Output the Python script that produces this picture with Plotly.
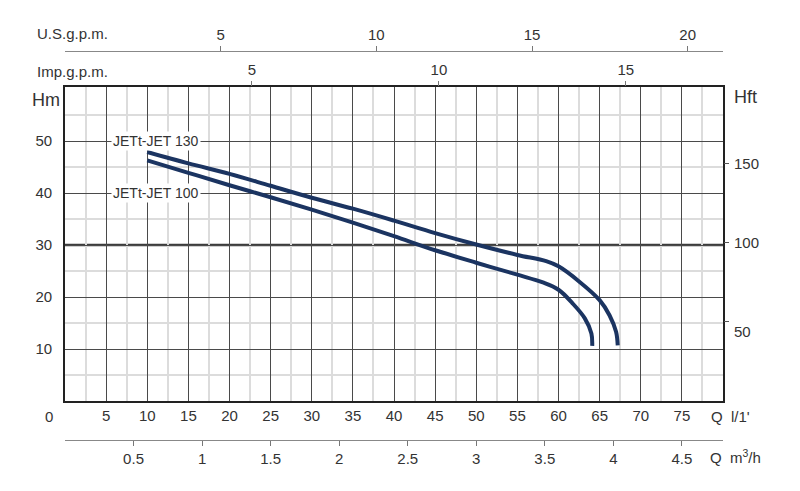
import plotly.graph_objects as go

# performance curves: flow in l/min, head in m
flow_130 = [10, 15, 20, 25, 30, 35, 40, 45, 50, 55, 58.5, 60, 62.5, 65, 66.2, 67, 67.2]
head_130 = [47.9, 45.7, 43.7, 41.4, 39.1, 37.0, 34.7, 32.3, 30.1, 28.1, 26.9, 25.9, 23.0, 19.4, 16.5, 13.3, 10.7]

flow_100 = [10, 15, 20, 25, 30, 35, 40, 45, 50, 55, 58.1, 60, 61.7, 63.2, 64.0, 64.1]
head_100 = [46.3, 43.9, 41.5, 39.2, 36.8, 34.3, 31.7, 29.0, 26.6, 24.3, 22.8, 21.4, 18.8, 15.9, 13.0, 10.6]

curve_names = ['JETt-JET 130', 'JETt-JET 100']

lpm_ticks = [5, 10, 15, 20, 25, 30, 35, 40, 45, 50, 55, 60, 65, 70, 75]
m3h_ticks = [0.5, 1, 1.5, 2, 2.5, 3, 3.5, 4, 4.5]
usgpm_ticks = [5, 10, 15, 20]
impgpm_ticks = [5, 10, 15]
hm_ticks = [10, 20, 30, 40, 50]
hft_ticks = [50, 100, 150]

Q_MAX = 80        # l/min
H_MAX = 60.4      # m
US_GAL = 3.785411784
IMP_GAL = 4.54609
FT = 0.3048

NAVY = '#1b3461'
TXT = '#333333'
DARK_GRID = '#4a4a4a'
LIGHT_GRID = '#dcdcdc'
FONT = 'Liberation Sans, Arial, sans-serif'

# paper coordinates (plotting height 431 px, the page adds an 8 px body margin)
Y_BOTTOM, Y_TOP = 0.1392, 0.8677
POS_M3H = 0.0487
POS_USGPM = 0.952

fig = go.Figure()

fig.add_trace(go.Scatter(x=flow_130, y=head_130, mode='lines', line=dict(color=NAVY, width=4, shape='spline'),
                         name=curve_names[0], showlegend=False, hoverinfo='x+y'))
fig.add_trace(go.Scatter(x=flow_100, y=head_100, mode='lines', line=dict(color=NAVY, width=4, shape='spline'),
                         name=curve_names[1], showlegend=False, hoverinfo='x+y'))

# empty traces so the secondary scales get drawn
for xa, ya in [('x2', 'y'), ('x3', 'y'), ('x4', 'y'), ('x', 'y2')]:
    fig.add_trace(go.Scatter(x=[None], y=[None], xaxis=xa, yaxis=ya, showlegend=False, hoverinfo='skip'))

tick_font = dict(family=FONT, size=15, color=TXT)

fig.update_layout(
    template='none',
    width=792, height=483,
    margin=dict(l=57, r=77, t=22, b=30),
    paper_bgcolor='white', plot_bgcolor='white',
    font=dict(family=FONT, color=TXT),
    xaxis=dict(
        range=[0, Q_MAX], domain=[0, 1], anchor='y', automargin=False,
        tickmode='array', tickvals=lpm_ticks, ticks='', tickfont=tick_font,
        showgrid=True, gridcolor=DARK_GRID, gridwidth=1,
        minor=dict(tickvals=[v - 2.5 for v in lpm_ticks] + [77.5], showgrid=True,
                   gridcolor=LIGHT_GRID, gridwidth=1.5, ticks=''),
        showline=True, mirror=True, linecolor='#222222', linewidth=1.6,
        zeroline=False, fixedrange=True,
    ),
    xaxis2=dict(
        range=[0, Q_MAX * 60 / 1000], overlaying='x', anchor='free', position=POS_M3H, side='bottom',
        automargin=False,
        tickmode='array', tickvals=m3h_ticks, ticks='outside', ticklen=5, tickcolor='#777777',
        tickfont=tick_font, showgrid=False, showline=True, linecolor='#888888', linewidth=1.2,
        zeroline=False,
    ),
    xaxis3=dict(
        range=[0, Q_MAX / US_GAL], overlaying='x', anchor='free', position=POS_USGPM, side='top',
        automargin=False,
        tickmode='array', tickvals=usgpm_ticks, ticks='outside', ticklen=5, tickcolor='#777777',
        tickfont=tick_font, showgrid=False, showline=True, linecolor='#888888', linewidth=1.2,
        zeroline=False,
    ),
    xaxis4=dict(
        range=[0, Q_MAX / IMP_GAL], overlaying='x', anchor='y', side='top', automargin=False,
        tickmode='array', tickvals=impgpm_ticks, ticks='outside', ticklen=5, tickcolor='#777777',
        tickfont=tick_font, showgrid=False, showline=False, zeroline=False,
    ),
    yaxis=dict(
        range=[0, H_MAX], domain=[Y_BOTTOM, Y_TOP], anchor='x', automargin=False,
        tickmode='array', tickvals=hm_ticks, ticks='', tickfont=tick_font, ticklabelstandoff=8,
        showgrid=True, gridcolor=DARK_GRID, gridwidth=1,
        minor=dict(tickvals=[v - 5 for v in hm_ticks] + [55], showgrid=True,
                   gridcolor=LIGHT_GRID, gridwidth=1.5, ticks=''),
        showline=True, mirror=True, linecolor='#222222', linewidth=1.6,
        zeroline=False, fixedrange=True,
    ),
    yaxis2=dict(
        range=[0, H_MAX / FT], overlaying='y', anchor='x', side='right', automargin=False,
        tickmode='array', tickvals=hft_ticks, ticktext=[' ', '100', '150'],
        ticks='outside', ticklen=5, tickcolor='#555555', tickfont=tick_font, ticklabelstandoff=2,
        showgrid=False, showline=False, zeroline=False,
    ),
)

# the 30 m reference line is drawn heavier
fig.add_shape(type='line', xref='x', yref='y', x0=0, x1=Q_MAX, y0=30, y1=30,
              line=dict(color='#3c3c3c', width=2.6), layer='below')

label_font = dict(family=FONT, size=14, color=TXT)
fig.add_annotation(x=11.1, y=50, xref='x', yref='y', text=curve_names[0], showarrow=False,
                   font=label_font, bgcolor='white', borderpad=1)
fig.add_annotation(x=11.1, y=40, xref='x', yref='y', text=curve_names[1], showarrow=False,
                   font=label_font, bgcolor='white', borderpad=1)

unit_font = dict(family=FONT, size=15, color=TXT)
fig.add_annotation(x=0, y=0.8376, xref='paper', yref='paper', xanchor='right', yanchor='middle', xshift=-3,
                   text='Hm', showarrow=False, font=dict(family=FONT, size=18, color=TXT))
fig.add_annotation(x=1, y=0.8445, xref='paper', yref='paper', xanchor='left', yanchor='middle', xshift=9,
                   text='Hft', showarrow=False, font=dict(family=FONT, size=18, color=TXT))
fig.add_annotation(x=-0.0456, y=0.993, xref='paper', yref='paper', xanchor='left', yanchor='middle',
                   text='U.S.g.p.m.', showarrow=False, font=unit_font)
fig.add_annotation(x=-0.0456, y=0.9026, xref='paper', yref='paper', xanchor='left', yanchor='middle',
                   text='Imp.g.p.m.', showarrow=False, font=unit_font)
fig.add_annotation(x=0, y=0.1044, xref='x', yref='paper', xanchor='center', yanchor='middle', xshift=-16,
                   text='0', showarrow=False, font=tick_font)
fig.add_annotation(x=1, y=0.1044, xref='paper', yref='paper', xanchor='left', yanchor='middle', xshift=-14,
                   text="Q  l/1'", showarrow=False, font=unit_font)
fig.add_annotation(x=1, y=0.0116, xref='paper', yref='paper', xanchor='left', yanchor='middle', xshift=-15,
                   text='Q  m<sup>3</sup>/h', showarrow=False, font=unit_font)
fig.add_annotation(x=1, y=50, xref='paper', yref='y2', xanchor='left', yanchor='middle', xshift=9, yshift=-10,
                   text='50', showarrow=False, font=tick_font)

fig.write_html('out.html')
